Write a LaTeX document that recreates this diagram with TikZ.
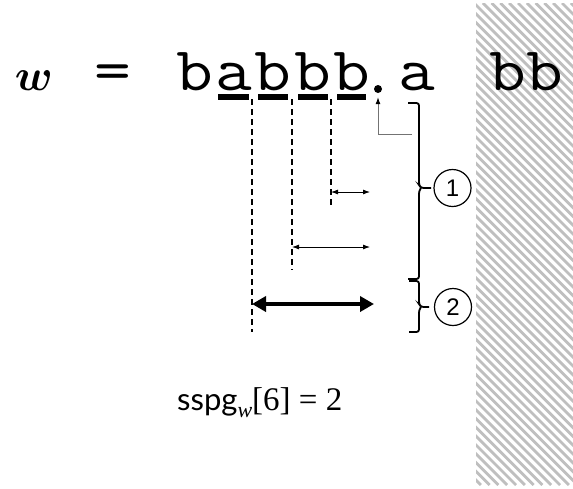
\documentclass[tikz,border=0pt]{standalone}
\usepackage{fontspec}
\usepackage{bm}
\usetikzlibrary{arrows.meta}
\newfontfamily\serf{Liberation Serif}
\newfontfamily\sansf{Lato}
\newfontfamily\digf{Liberation Sans}
\newcommand{\monochar}[1]{\scalebox{1.15}[1]{\ttfamily\fontsize{62}{62}\selectfont #1}}
\tikzset{
  chr/.style={inner sep=0pt, anchor=base},
  ubar/.style={fill=black},
  guide/.style={dash pattern=on 6pt off 4pt, line width=1.8pt},
  thinarr/.style={{Latex[length=7pt,width=5pt]}-{Latex[length=7pt,width=5pt]}, line width=0.8pt},
  thickarr/.style={{Triangle[length=14pt,width=15pt]}-{Triangle[length=14pt,width=15pt]}, line width=4.5pt},
  bracepath/.style={line width=1.8pt, rounded corners=2.5pt},
  circnum/.style={circle, draw, line width=1.2pt, minimum size=37pt, inner sep=0pt, font=\digf\fontsize{24}{24}\selectfont},
  hatchline/.style={draw=black!25, line width=2.8pt},
  pointer/.style={draw=black!55, line width=0.9pt, -{Latex[black,length=7pt,width=5pt]}}
}
\begin{document}
\begin{tikzpicture}[x=1pt,y=-1pt]
\useasboundingbox (0,0) rectangle (573,488);
% hatched area
\begin{scope}
  \clip (476,3) rectangle (573,485);
  \foreach \i in {0,...,68} \draw[hatchline] ({\i*8.8-10},3) -- ++(482,482);
\end{scope}
% top string
\node[chr] (w) at (34,90) {\resizebox{38pt}{!}{$\bm{w}$}};
\node[chr] (eq) at (112.5,90) {\monochar{=}};
\node[chr] (c1) at (195,90) {\monochar{b}};
\node[chr] (c2) at (233.5,90) {\monochar{a}};
\node[chr] (c3) at (273,90) {\monochar{b}};
\node[chr] (c4) at (312.5,90) {\monochar{b}};
\node[chr] (c5) at (352,90) {\monochar{b}};
\node[circle, fill=black, inner sep=0pt, minimum size=8pt] (dot) at (378,89) {};
\node[chr] (c6) at (416.5,90) {\monochar{a}};
\node[chr] (c7) at (508,90) {\monochar{b}};
\node[chr] (c8) at (545,90) {\monochar{b}};
% underlines
\fill[ubar] (218,94) rectangle (249,100);
\fill[ubar] (258,94) rectangle (288,100);
\fill[ubar] (298,94) rectangle (328,100);
\fill[ubar] (337,94) rectangle (366,100);
% dashed guides
\coordinate (g1t) at (252,99); \coordinate (g1b) at (252,332);
\coordinate (g2t) at (292,99); \coordinate (g2b) at (292,270);
\coordinate (g3t) at (331,99); \coordinate (g3b) at (331,207);
\draw[guide] (g1t) -- (g1b);
\draw[guide] (g2t) -- (g2b);
\draw[guide] (g3t) -- (g3b);
% arrows
\coordinate (a1l) at (331,192); \coordinate (a1r) at (370,192);
\coordinate (a2l) at (292,247); \coordinate (a2r) at (370,247);
\coordinate (a3l) at (252,304); \coordinate (a3r) at (374,304);
\draw[thinarr] (a1l) -- (a1r);
\draw[thinarr] (a2l) -- (a2r);
\draw[thickarr] (a3l) -- (a3r);
% pointer to the dot
\coordinate (pt) at (412,134);
\draw[pointer] (pt) -| ([yshift=-4pt]dot.south);
% braces
\draw[bracepath] (408,103) -- (419,103) -- (419,185) -- (421,188) -- (431,188);
\draw[bracepath] (421,188) -- (419,191) -- (419,279) -- (408,279);
\draw[bracepath] (409,281) -- (419,281) -- (419,304) -- (421,307) -- (429,307);
\draw[bracepath] (421,307) -- (419,310) -- (419,332) -- (409,332);
\node[circnum] (n1) at (452.5,188) {1};
\node[circnum] (n2) at (453,307) {2};
% bottom formula
\node[inner sep=0pt, anchor=base west] (f) at (177,410)
  {\sansf\fontsize{31}{31}\selectfont sspg\raisebox{-7pt}{\serf\itshape\fontsize{22}{22}\selectfont w}\serf\fontsize{33}{33}\selectfont[6] = 2};
\end{tikzpicture}
\end{document}
